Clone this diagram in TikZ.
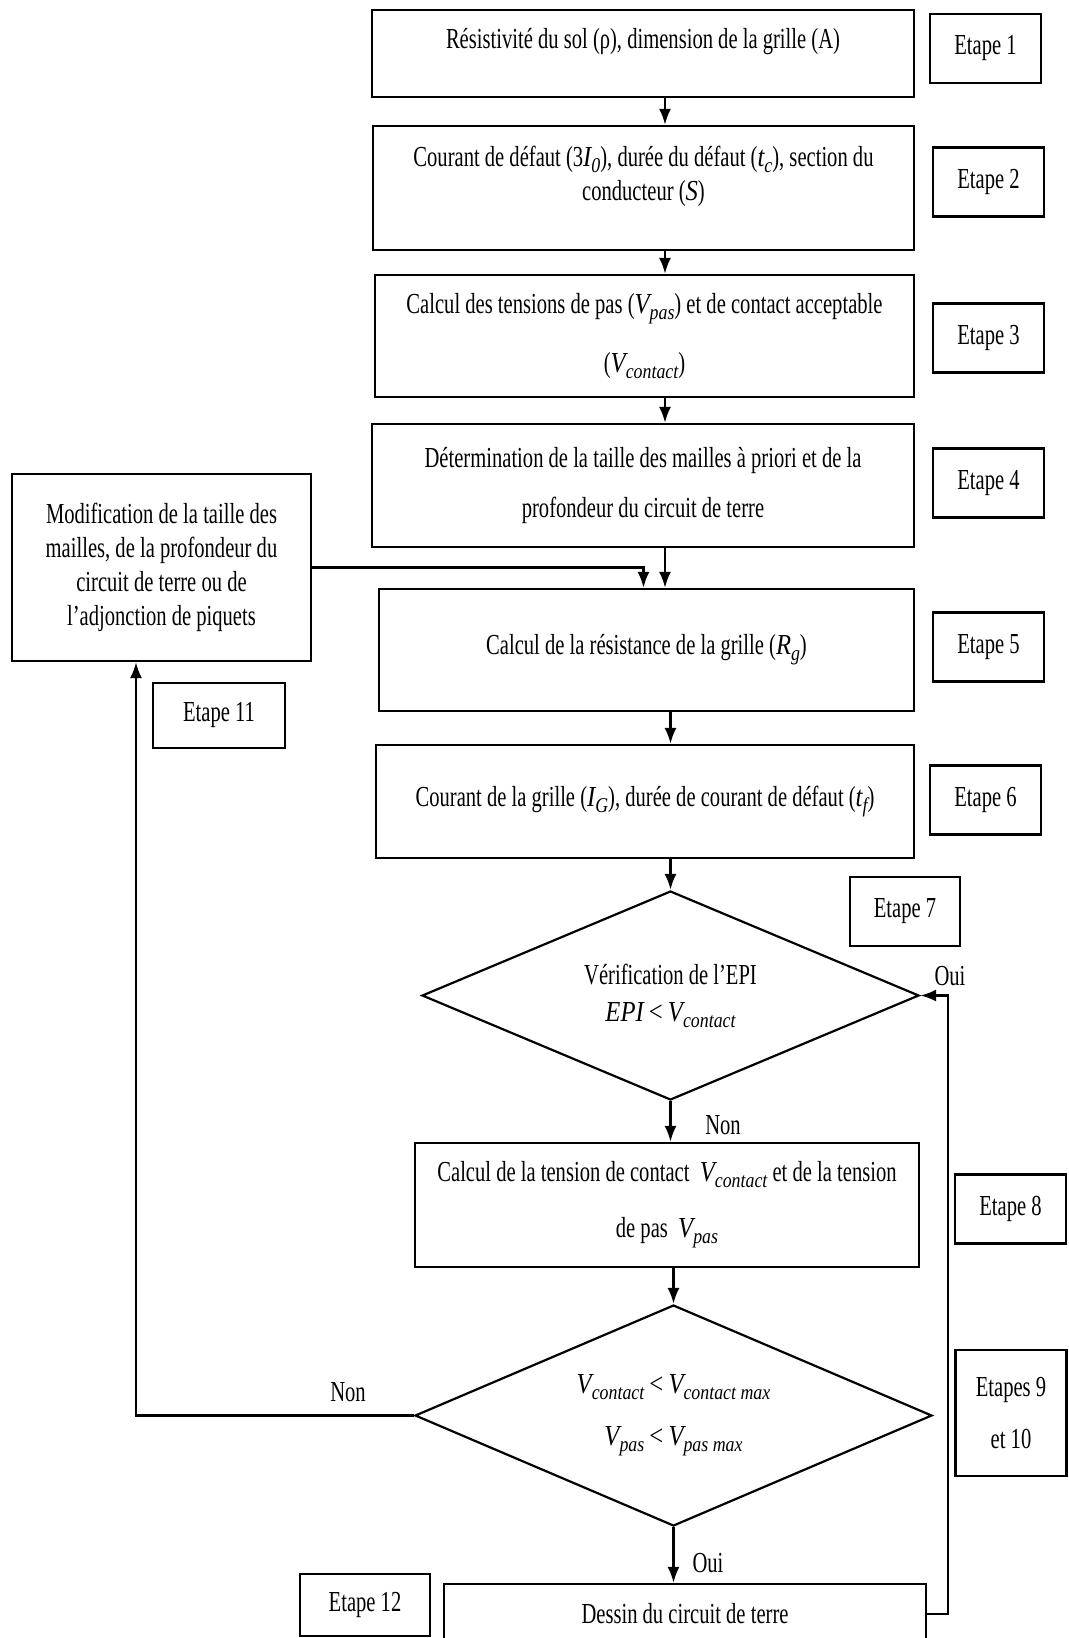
\documentclass[tikz,border=0pt]{standalone}
\usepackage{fontspec}
\setmainfont{Liberation Serif}[FakeStretch=0.71]
\newfontfamily\mfont{Liberation Serif}[FakeStretch=0.85]
\usepackage{tikz}
\usetikzlibrary{shapes.geometric, arrows.meta, positioning, calc}
\newcommand{\vsub}[2]{{\mfont\itshape #1\raisebox{-6pt}{\fontsize{21}{21}\selectfont #2}}}

\begin{document}
\begin{tikzpicture}[x=1pt, y=-1pt,
  every node/.style={font=\fontsize{29}{34}\selectfont},
  box/.style={draw, line width=2.2pt, align=center, inner sep=0pt},
  etape/.style={draw, line width=2.2pt, minimum width=111pt, minimum height=69pt, inner sep=0pt, align=center},
  decision/.style={draw, diamond, aspect=2.3, line width=2.2pt, inner sep=0pt, align=center},
  arr/.style={line width=2.6pt, -{Latex[length=16pt, width=12pt]}}]
  \useasboundingbox[fill=white] (0,0) rectangle (1068,1638);

  % Input data
  \node[box, minimum width=542pt, text height=38pt, text depth=49pt] (rho) at (643,53.5) {Résistivité du sol (ρ), dimension de la grille (A)};
  \node[box, minimum width=541pt, text height=74pt, text depth=50pt] (defaut) at (643.5,188) {Courant de défaut (3\vsub{I}{0}), durée du défaut (\vsub{t}{c}), section du\\conducteur ({\mfont\itshape S})};
  \node[box, minimum width=539pt, minimum height=122pt] (tension) at (644.5,336) {Calcul des tensions de pas (\vsub{V}{pas}) et de contact acceptable\\[25pt](\vsub{V}{contact})};
  \node[box, minimum width=542pt, minimum height=123pt] (taille) at (643,485.5) {Détermination de la taille des mailles à priori et de la\\[16pt]profondeur du circuit de terre};

  % Loop box on the left
  \node[box, minimum width=299pt, minimum height=187pt] (modif) at (161.5,567.5) {Modification de la taille des\\mailles, de la profondeur du\\circuit de terre ou de\\l’adjonction de piquets};

  % Grid
  \node[box, minimum width=535pt, minimum height=122pt] (grille) at (646.5,650) {Calcul de la résistance de la grille (\vsub{R}{g})};
  \node[box, minimum width=538pt, minimum height=113pt] (courant) at (645,801.5) {Courant de la grille (\vsub{I}{G}), durée de courant de défaut (\vsub{t}{f})};

  % Checks
  \node[decision, minimum width=497pt, minimum height=209pt] (epi) at (670.5,995.5) {Vérification de l’EPI\\[3pt]{\mfont\itshape EPI} {\mfont <} \vsub{V}{contact}};
  \node[box, minimum width=504pt, minimum height=124pt] (contact) at (667,1205) {Calcul de la tension de contact\ \ \vsub{V}{contact} et de la tension\\[22pt]de pas\ \ \vsub{V}{pas}};
  \node[decision, minimum width=517pt, minimum height=221pt] (limite) at (673.5,1415.5) {\vsub{V}{contact} {\mfont <} \vsub{V}{contact max}\\[18pt]\vsub{V}{pas} {\mfont <} \vsub{V}{pas max}};
  \node[box, minimum width=482pt, minimum height=60pt] (dessin) at (685,1614) {Dessin du circuit de terre};

  % Step labels
  \node[etape] (e1) at (985.5,48.5) {Etape 1};
  \node[etape] (e2) at (988.5,182) {Etape 2};
  \node[etape] (e3) at (988.5,338) {Etape 3};
  \node[etape] (e4) at (988.5,483) {Etape 4};
  \node[etape] (e5) at (988.5,647) {Etape 5};
  \node[etape] (e6) at (985.5,800) {Etape 6};
  \node[etape, minimum width=110pt] (e7) at (905,911.5) {Etape 7};
  \node[etape] (e8) at (1010.5,1209) {Etape 8};
  \node[etape, minimum height=126pt] (e9) at (1011,1413) {Etapes 9\\[18pt]et 10};
  \node[etape, minimum width=132pt, minimum height=65pt] (e11) at (219,715.5) {Etape 11};
  \node[etape, minimum width=130pt, minimum height=62pt] (e12) at (365,1605) {Etape 12};

  % Branch labels
  \node (oui1) at (950,976) {Oui};
  \node (non1) at (723,1125) {Non};
  \node (non2) at (348,1392) {Non};
  \node (oui2) at (708,1563) {Oui};

  % Main flow
  \coordinate (col) at (665,0);
  \draw[arr] (rho.south -| col) -- (defaut.north -| col);
  \draw[arr] (defaut.south -| col) -- (tension.north -| col);
  \draw[arr] (tension.south -| col) -- (taille.north -| col);
  \draw[arr] (taille.south -| col) -- (grille.north -| col);
  \draw[arr] (grille.south -| epi.north) -- (courant.north -| epi.north);
  \draw[arr] (courant.south -| epi.north) -- (epi.north);
  \draw[arr] (epi.south) -- (epi.south |- contact.north);
  \draw[arr] (contact.south -| limite.north) -- (limite.north);
  \draw[arr] (limite.south) -- (limite.south |- dessin.north);

  % Loops
  \draw[arr] (modif.east) -| ([xshift=-3pt]grille.north);
  \draw[arr] (limite.west) -| ([xshift=-25.5pt]modif.south);
  \draw[arr] (dessin.east) -- ++(21,0) |- (epi.east);
\end{tikzpicture}
\end{document}
